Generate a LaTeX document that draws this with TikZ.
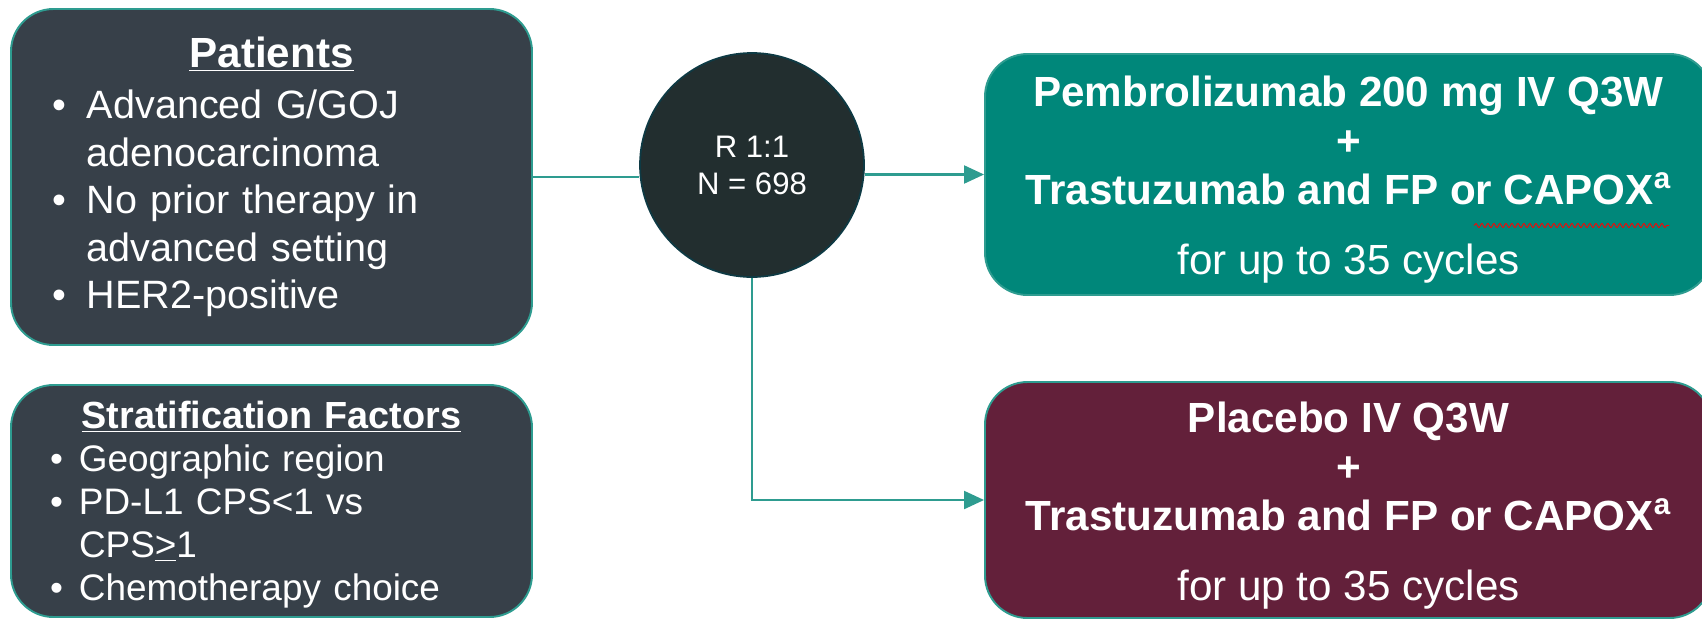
\documentclass[tikz,border=0pt]{standalone}
\usepackage{fontspec}
\setmainfont{Liberation Sans}
\usetikzlibrary{arrows.meta,decorations.pathmorphing}

\definecolor{slatebox}{HTML}{374049}
\definecolor{randdark}{HTML}{222E2F}
\definecolor{randedge}{HTML}{0E3A44}
\definecolor{pembrogreen}{HTML}{00877A}
\definecolor{placeboplum}{HTML}{63203A}
\definecolor{flowteal}{HTML}{2E9C90}

\newcommand{\bul}[1]{\makebox[#1][l]{\textbullet}}

\begin{document}
\begin{tikzpicture}[
    box/.style={rectangle, rounded corners=0.85cm, draw=flowteal, line width=1.1pt, text=white},
    patientbox/.style={box, fill=slatebox, align=left, minimum width=10.42cm},
    armbox/.style={box, align=center, minimum width=14.54cm},
    randnode/.style={circle, fill=randdark, draw=randedge, line width=1pt, minimum size=4.48cm, text=white, align=center, font=\fontsize{17.7}{21}\selectfont},
    flow/.style={flowteal, line width=1.2pt},
    arrow/.style={flow, -{Triangle[length=0.4cm,width=0.36cm]}}
]
\useasboundingbox (0,0) rectangle (34.04,-12.38);

% Patients
\node[patientbox, minimum height=6.72cm, text width=8.74cm, inner xsep=0.84cm, font=\fontsize{22.5}{27}\selectfont] (patients) at (5.43,-3.54) {%
  \makebox[\linewidth]{\fontsize{24}{27}\selectfont\textbf{\underline{Patients}}}\\[2pt]
  \bul{0.68cm}Advanced G/GOJ\\
  \hspace*{0.68cm}adenocarcinoma\\
  \bul{0.68cm}No prior therapy in\\
  \hspace*{0.68cm}advanced setting\\
  \bul{0.68cm}HER2-positive};

% Stratification
\node[patientbox, minimum height=4.64cm, text width=8.86cm, inner xsep=0.78cm, font=\fontsize{21}{24.5}\selectfont] (strata) at (5.43,-10.02) {%
  \rule{0pt}{20pt}\makebox[\linewidth]{\fontsize{21.5}{24.5}\selectfont\textbf{\underline{Stratification Factors}}}\\
  \bul{0.58cm}Geographic region\\
  \bul{0.58cm}PD-L1 CPS<1 vs\\
  \hspace*{0.58cm}CPS\underline{>}1\\
  \bul{0.58cm}Chemotherapy choice};

% Randomisation
\node[randnode] (rand) at (15.04,-3.3) {R 1:1\\N = 698};

% Treatment arms
\node[armbox, fill=pembrogreen, minimum height=4.82cm, font=\fontsize{24}{27.9}\selectfont] (pembro) at (26.97,-3.49) {%
  \rule{0pt}{23.4pt}\textbf{Pembrolizumab 200 mg IV Q3W}\\
  \textbf{+}\\
  \textbf{Trastuzumab and FP or CAPOX\textsuperscript{a}}\\[11.9pt]
  for up to 35 cycles};
\node[armbox, fill=placeboplum, minimum height=4.72cm, font=\fontsize{24}{27.9}\selectfont] (placebo) at (26.97,-10.0) {%
  \rule{0pt}{23.4pt}\textbf{Placebo IV Q3W}\\
  \textbf{+}\\
  \textbf{Trastuzumab and FP or CAPOX\textsuperscript{a}}\\[11.9pt]
  for up to 35 cycles};

% Connections
\draw[flow] (patients.east) -- (patients.east -| rand.west);
\draw[arrow] (pembro.west -| rand.east) -- (pembro.west);
\draw[arrow] (rand.south) |- (placebo.west);

% spell-check mark
\draw[red, line width=0.5pt, decorate, decoration={snake, amplitude=0.04cm, segment length=0.12cm}] (29.48,-4.51) -- (33.38,-4.51);

\end{tikzpicture}
\end{document}
